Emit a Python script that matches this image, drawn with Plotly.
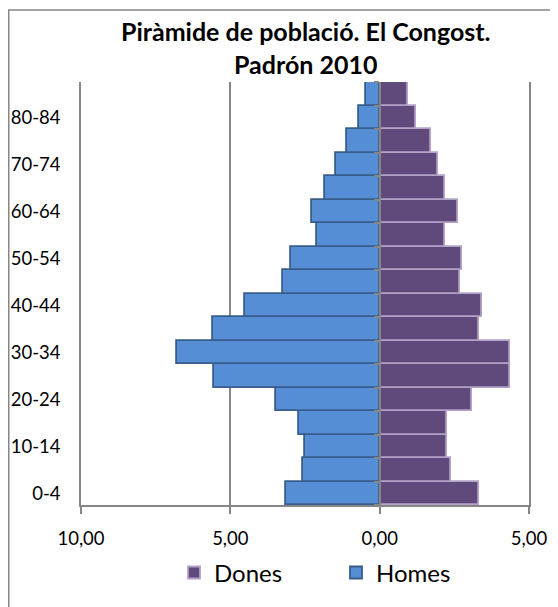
import plotly.graph_objects as go

ages = ["0-4", "5-9", "10-14", "15-19", "20-24", "25-29", "30-34", "35-39", "40-44",
        "45-49", "50-54", "55-59", "60-64", "65-69", "70-74", "75-79", "80-84", "85+"]
homes = [3.14, 2.57, 2.51, 2.70, 3.48, 5.55, 6.77, 5.58, 4.51,
         3.24, 2.97, 2.10, 2.25, 1.84, 1.46, 1.09, 0.69, 0.47]
dones = [3.34, 2.40, 2.26, 2.26, 3.09, 4.37, 4.37, 3.31, 3.43,
         2.70, 2.74, 2.20, 2.62, 2.20, 1.95, 1.71, 1.23, 0.94]
shown_ages = ["0-4", "10-14", "20-24", "30-34", "40-44", "50-54", "60-64", "70-74", "80-84"]
x_ticks = [-10, -5, 0, 5]
x_tick_text = ["10,00", "5,00", "0,00", "5,00"]
title_text = "Piràmide de població. El Congost.<br>Padrón 2010"

FONT = "Lato"
GRAY = "#868686"
# the page body has an 8px margin, so the figure starts 8px in from the window corner
W, H = 550, 599
ML, MR, MT, MB = 73, 29, 74, 95
PW = W - ML - MR
PH = H - MT - MB


def px_x(px):
    return (px - ML) / PW


def px_y(py):
    return (PH - (py - MT)) / PH


fig = go.Figure()
fig.add_trace(go.Bar(
    y=ages, x=dones, name="Dones", orientation="h",
    marker=dict(color="#604A7B", line=dict(color="#B3A2C7", width=1.8)),
    hovertemplate="%{y}: %{x:.2f}<extra>Dones</extra>",
))
fig.add_trace(go.Bar(
    y=ages, x=[-v for v in homes], name="Homes", orientation="h",
    customdata=homes,
    marker=dict(color="#558ED5", line=dict(color="#385D8A", width=1.8)),
    hovertemplate="%{y}: %{customdata:.2f}<extra>Homes</extra>",
))
# helper trace so that the centre category axis is drawn
fig.add_trace(go.Scatter(x=[0], y=[ages[0]], xaxis="x", yaxis="y2", mode="markers",
                         marker=dict(opacity=0), showlegend=False, hoverinfo="skip"))

zero_pos = 10 / 15

fig.update_layout(
    width=W, height=H,
    margin=dict(l=ML, r=MR, t=MT, b=MB),
    paper_bgcolor="white", plot_bgcolor="white",
    font=dict(family=FONT, color="#000000"),
    barmode="overlay", bargap=0,
    xaxis=dict(range=[-10, 5], tickvals=x_ticks, ticktext=x_tick_text,
               tickfont=dict(family=FONT, size=18.5), ticklabelstandoff=9,
               showgrid=True, gridcolor=GRAY, gridwidth=1.5,
               showline=True, linecolor=GRAY, linewidth=1.5,
               ticks="outside", ticklen=7, tickcolor=GRAY, tickwidth=1.5,
               zeroline=False, fixedrange=True, automargin=False),
    yaxis=dict(type="category", categoryorder="array", categoryarray=ages,
               range=[-0.5, len(ages) - 0.5], tickvals=shown_ages,
               showgrid=False, showline=True, linecolor=GRAY, linewidth=1.5, mirror=True,
               zeroline=False,
               ticks="outside", ticklen=15, tickcolor="rgba(0,0,0,0)",
               tickfont=dict(family=FONT, size=18.5), fixedrange=True, automargin=False),
    yaxis2=dict(type="category", categoryorder="array", categoryarray=ages,
                range=[-0.5, len(ages) - 0.5], overlaying="y", anchor="free",
                position=zero_pos, side="left", showticklabels=False,
                showgrid=False, zeroline=False, showline=True, linecolor=GRAY,
                linewidth=2, layer="above traces", ticks="outside", tickson="boundaries",
                ticklen=5, tickcolor=GRAY, tickwidth=1.5, fixedrange=True, automargin=False),
    legend=dict(orientation="h", x=px_x(166), xanchor="left",
                y=px_y(573), yanchor="middle",
                font=dict(family=FONT, size=24), traceorder="normal",
                itemwidth=30, entrywidth=117, entrywidthmode="pixels"),
    showlegend=True,
)

fig.add_annotation(text="<b>" + title_text + "</b>", xref="paper", yref="paper",
                   x=px_x(298), y=px_y(39), xanchor="center", yanchor="middle",
                   showarrow=False, font=dict(family=FONT, size=25, color="#000000"))

# chart border (only left and top edges are inside the picture)
fig.add_shape(type="rect", xref="paper", yref="paper",
              x0=px_x(0.75), x1=px_x(570), y0=px_y(640), y1=px_y(0.75),
              line=dict(color=GRAY, width=1.5), fillcolor="rgba(0,0,0,0)", layer="below")

fig.write_html("out.html")
